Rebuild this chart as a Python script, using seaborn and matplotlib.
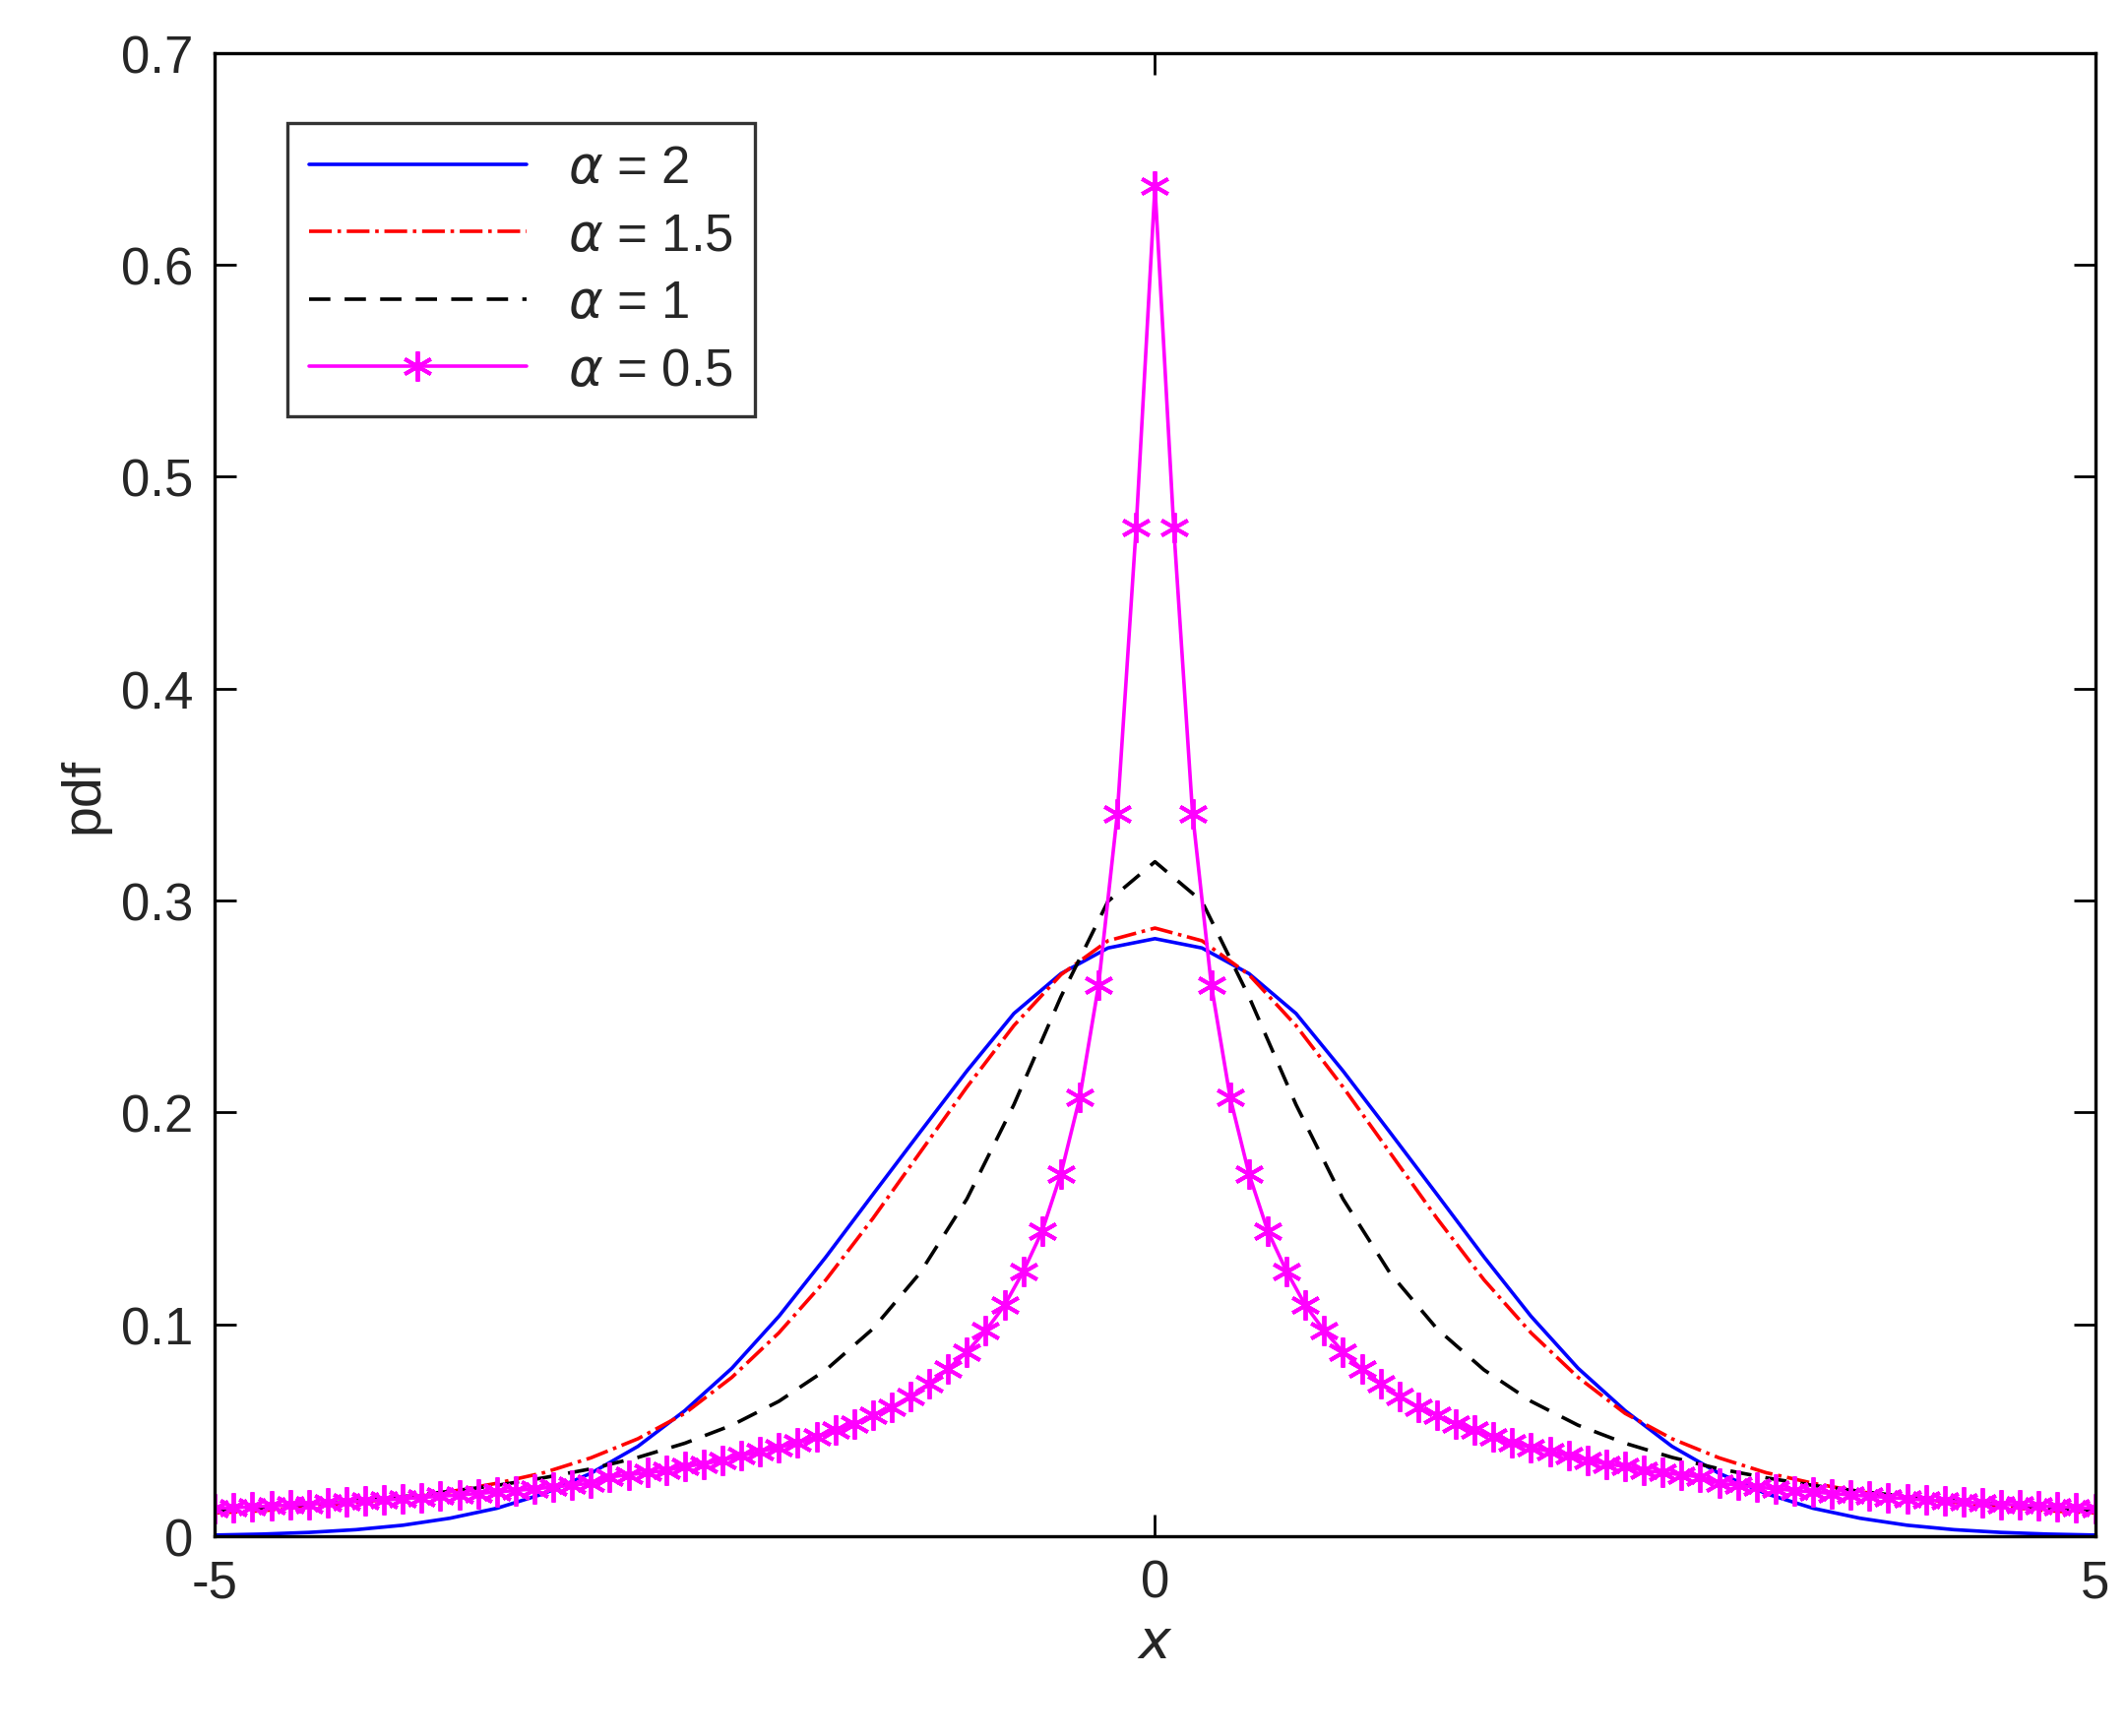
import numpy as np
import pandas as pd
import matplotlib
matplotlib.use("Agg")
import matplotlib.pyplot as plt
import seaborn as sns

sns.set_style("white")
plt.rcParams['font.family'] = ['Liberation Sans', 'DejaVu Sans']
plt.rcParams['mathtext.fontset'] = 'dejavusans'

# smooth curves sampled on x = 0..5 step 0.25 (symmetric)
x_half_s = [0, .25, .5, .75, 1, 1.25, 1.5, 1.75, 2, 2.25, 2.5, 2.75, 3, 3.25, 3.5, 3.75, 4, 4.25, 4.5, 4.75, 5]
a2_half = [.282, .2776, .2655, .2467, .2196, .1906, .1613, .1318, .1038, .0793, .0593, .0424, .0297, .0201, .0132, .0085, .0052, .0031, .0018, .0010, .00055]
a15_half = [.287, .281, .265, .241, .212, .181, .150, .121, .096, .075, .058, .046, .037, .030, .025, .021, .018, .016, .014, .012, .011]
a1_half = [.3183, .2996, .2546, .2037, .1592, .1242, .0979, .0785, .0637, .0524, .0439, .0372, .0318, .0276, .0240, .0212, .0187, .0167, .0150, .0135, .0122]
# alpha = 0.5 on x = 0..5 step 0.1
x_half_m = [round(0.1 * i, 1) for i in range(51)]
a05_half = [.637, .476, .341, .260, .207, .171, .144, .125, .109, .097, .087, .079, .072, .066, .061, .057, .053, .050, .047, .044,
            .042, .040, .038, .036, .034, .033, .031, .030, .029, .028, .0250, .0241, .0232, .0224, .0216, .0209, .0202, .0195,
            .0189, .0183, .0177, .0171, .0166, .0161, .0156, .0151, .0147, .0143, .0139, .0135, .0131]

def full(xs, ys):
    return [-v for v in xs[::-1]] + xs[1:], ys[::-1] + ys[1:]

W, H = 2161, 1765
fig = plt.figure(figsize=(W / 200, H / 200), dpi=200)
ax = fig.add_axes([0.101, 0.115, 0.884, 0.854])

series = [
    (a2_half, x_half_s, r'$\alpha$ = 2', 'blue', '-', None),
    (a15_half, x_half_s, r'$\alpha$ = 1.5', 'red', '-.', None),
    (a1_half, x_half_s, r'$\alpha$ = 1', 'black', (0, (6, 4)), None),
    (a05_half, x_half_m, r'$\alpha$ = 0.5', 'magenta', '-', (6, 2, 0)),
]
for ys, xs, lab, col, ls, mk in series:
    xx, yy = full(xs, ys)
    df = pd.DataFrame({'x': xx, 'y': yy})
    sns.lineplot(data=df, x='x', y='y', ax=ax, label=lab, linewidth=1.3, color=col)
    ln = ax.lines[-1]
    ln.set_linestyle(ls)
    if mk is not None:
        ln.set_marker(mk)
        ln.set_markersize(11)
        ln.set_markeredgewidth(1.4)
        ln.set_markeredgecolor(col)

ax.set_xlim(-5, 5)
ax.set_ylim(0, 0.7)
ax.set_xticks([-5, 0, 5])
ax.set_xticklabels(['-5', '0', '5'])
ax.set_yticks(np.arange(0, 0.71, 0.1))
ax.set_yticklabels(['0', '0.1', '0.2', '0.3', '0.4', '0.5', '0.6', '0.7'])
ax.tick_params(direction='in', top=True, right=True, bottom=True, left=True,
               length=8, width=1, labelsize=19, pad=8, color='black')
ax.set_xlabel(r'$x$', fontsize=20)
ax.set_ylabel('pdf', fontsize=20)
for s in ax.spines.values():
    s.set_color('black'); s.set_linewidth(1.2)
leg = ax.legend(loc='upper left', bbox_to_anchor=(0.025, 0.97), fontsize=19, frameon=True,
                fancybox=False, edgecolor='black', handlelength=4.2, borderpad=0.4, labelspacing=0.35)
leg.get_frame().set_linewidth(1.2)
for h, (_, _, _, col, ls, mk) in zip(leg.get_lines(), series):
    h.set_linestyle(ls)
    if mk is not None:
        h.set_marker(mk); h.set_markersize(11); h.set_markeredgewidth(1.4); h.set_markeredgecolor(col)
fig.savefig('out.png', dpi=200)
